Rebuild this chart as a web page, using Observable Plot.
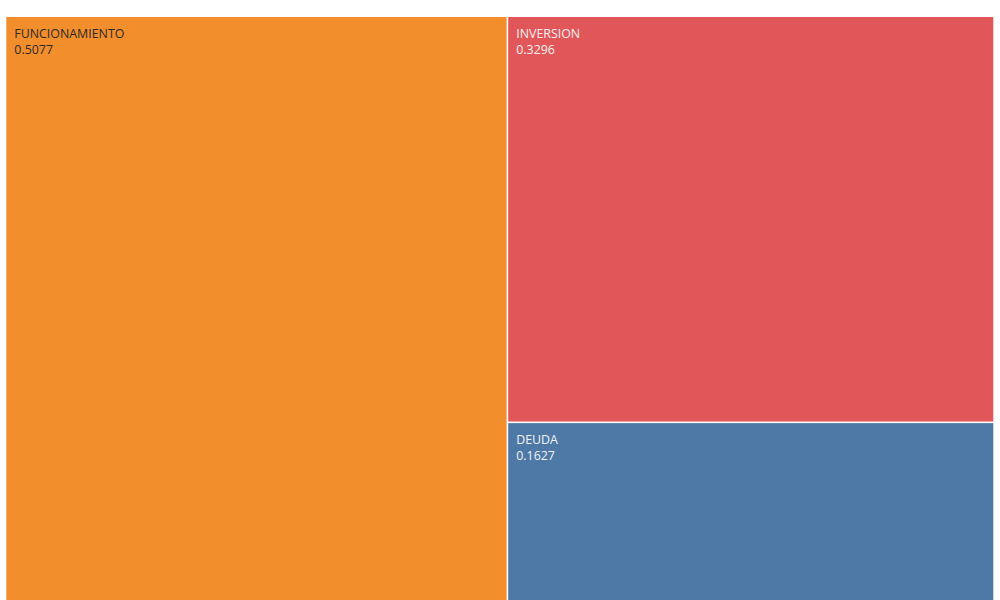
<!DOCTYPE html>
<html>
<head>
<meta charset="utf-8">
<script src="https://cdn.jsdelivr.net/npm/d3@7"></script>
<script src="https://cdn.jsdelivr.net/npm/@observablehq/plot@0.6"></script>
<style>
  html, body { margin: 0; padding: 0; background: #fff; }
  #chart svg { display: block; }
</style>
</head>
<body>
<div id="chart"></div>
<script>
const categories = ["FUNCIONAMIENTO", "INVERSION", "DEUDA"];
const values = [0.5077, 0.3296, 0.1627];
const colors = ["#F28E2B", "#E15759", "#4E79A7"];
const labelColors = ["#2b2b2b", "#f2f2f2", "#f2f2f2"];

const root = d3.hierarchy({children: categories.map((name, i) => ({name, value: values[i], i}))})
  .sum(d => d.value || 0);
d3.treemap().tile(d3.treemapBinary).size([987, 605]).paddingInner(1.6)(root);
const cells = root.leaves().map(l => ({
  name: l.data.name, value: l.data.value, i: l.data.i,
  x0: l.x0 + 6.3, x1: l.x1 + 6.3, y0: l.y0 + 17, y1: l.y1 + 17
}));

const chart = Plot.plot({
  width: 1000,
  height: 600,
  margin: 0,
  x: {domain: [0, 1000], range: [0, 1000], axis: null},
  y: {domain: [0, 600], range: [0, 600], axis: null},
  style: {fontFamily: "'Open Sans', sans-serif", background: "#fff"},
  marks: [
    Plot.rect(cells, {x1: "x0", x2: "x1", y1: "y0", y2: "y1", fill: d => colors[d.i]}),
    Plot.text(cells, {
      x: d => d.x0 + 7.5, y: d => d.y0 + 9,
      text: d => d.name + "\n" + d.value.toFixed(4),
      textAnchor: "start", lineAnchor: "top", lineHeight: 1.3,
      fontSize: 12.4, fill: d => labelColors[d.i]
    })
  ]
});
document.getElementById("chart").append(chart);
</script>
</body>
</html>
